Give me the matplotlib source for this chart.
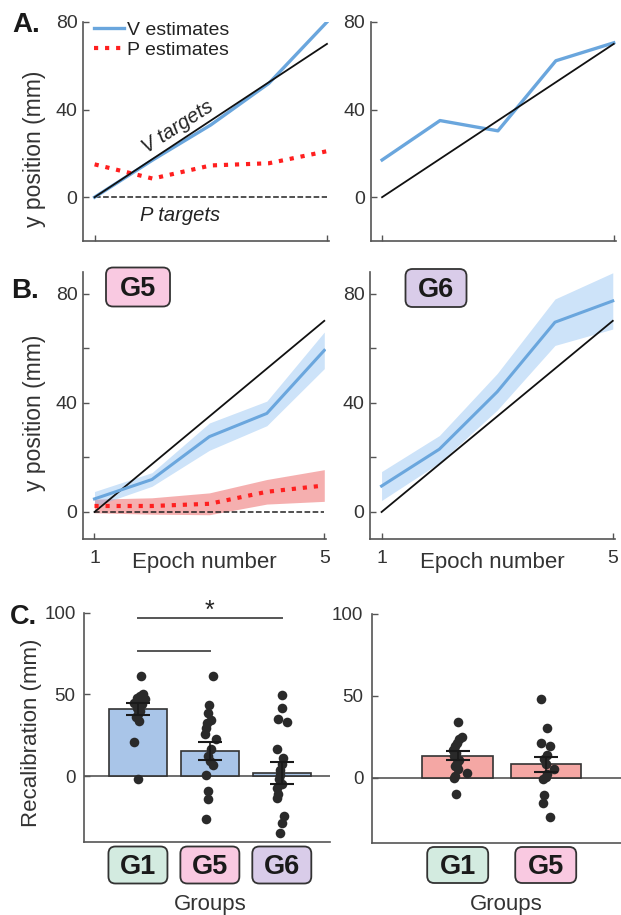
import matplotlib
matplotlib.use("Agg")
import matplotlib.pyplot as plt
from matplotlib.patches import FancyBboxPatch
import numpy as np

plt.rcParams["font.family"] = ["Liberation Sans", "DejaVu Sans"]

W, H = 621, 915

# ---- data ----
epochs = [1, 2, 3, 4, 5]
v_targets = [0, 17.5, 35, 52.5, 70]
p_targets = [0, 0, 0, 0, 0]

# panel A: single example participants
a_left_v = [0, 17, 33, 52, 80]
a_left_p = [15, 8.5, 14.5, 15.5, 21]
a_right_v = [17, 35, 30.3, 62.3, 70.5]

# panel B: group means and sem bands
g5_v_mean = [4.8, 11.9, 27.6, 36.1, 59.2]
g5_v_sem = [2.7, 2.5, 5.0, 4.5, 6.7]
g5_p_mean = [2.2, 2.2, 3.0, 7.4, 9.7]
g5_p_sem = [2.5, 3.0, 4.0, 4.5, 5.8]
g6_v_mean = [9.5, 23, 44, 69.5, 77.3]
g6_v_sem = [5.3, 5.0, 6.7, 8.5, 10.3]

# panel C left: visual recalibration
vis_groups = ["G1", "G5", "G6"]
vis_means = [41.1, 15.7, 2.1]
vis_sems = [3.5, 5.5, 6.6]
vis_dots = [
    [61.6, 50, 49, 48, 47, 46, 45, 44, 42, 40, 38, 36, 34, 21, -1.5],
    [61, 43.7, 38.6, 34.6, 32.5, 29.5, 26, 23, 16.7, 12.2, 9.1, 7.1, 1, -9, -14, -26.4],
    [49.8, 42, 35, 33, 16.7, 11.2, 7.7, 4, 1, -1.6, -4.5, -7, -11, -13, -24.4, -28.5, -34.6],
]
vis_jitter = [
    [0.04, 0.07, 0.03, -0.02, 0.1, 0, -0.06, 0.05, -0.02, 0.03, 0, -0.03, 0.02, -0.06, 0],
    [0.05, -0.01, -0.02, 0.01, -0.04, -0.06, -0.07, 0.09, 0.02, -0.02, 0, 0.04, -0.05, -0.02, -0.03, -0.05],
    [0, 0, -0.05, 0.07, -0.06, 0.02, 0, -0.03, -0.02, -0.04, 0, -0.07, -0.05, -0.06, 0.03, 0, -0.02],
]

# panel C right: proprioceptive recalibration
prop_groups = ["G1", "G5"]
prop_means = [13.4, 8.2]
prop_sems = [2.6, 4.6]
prop_dots = [
    [34, 25, 23.5, 21, 19, 17, 15, 13, 11, 9, 7, 5, 3, 1, 0, -10],
    [47.8, 30.6, 21, 19.4, 13.8, 11.3, 8.3, 5.3, 2.2, 0.2, -0.8, -10.5, -15.4, -24],
]
prop_jitter = [
    [0, 0.05, 0.02, -0.01, -0.03, -0.05, -0.02, -0.04, 0.01, -0.01, -0.03, 0, 0.1, -0.03, -0.04, -0.02],
    [-0.05, 0.01, -0.05, 0.05, 0.01, -0.02, 0, 0.09, 0.01, 0, -0.03, -0.02, -0.03, 0.05],
]

GROUP_COLORS = {"G1": "#d3ebe0", "G5": "#f9c9e1", "G6": "#d9cce9"}
V_COLOR = "#6aa6dd"
V_BAND = "#82b9f0"
P_COLOR = "#ff1f1f"
P_BAND = "#ec6060"
AX_COLOR = "#555555"
TXT = "#333333"


def px_axes(fig, l, t, r, b):
    return fig.add_axes([l / W, 1 - b / H, (r - l) / W, (b - t) / H])


def style_axes(ax, size):
    for s in ["top", "right"]:
        ax.spines[s].set_visible(False)
    for s in ["left", "bottom"]:
        ax.spines[s].set_color(AX_COLOR)
        ax.spines[s].set_linewidth(1.2)
    ax.tick_params(direction="in", length=4, width=1, color=AX_COLOR,
                   labelcolor=TXT, labelsize=size, pad=4)


def label_box(fig, cx, cy, text, color, w=60, h=37, fs=19.5):
    dpi = fig.dpi
    patch = FancyBboxPatch(((cx - w / 2) / dpi, (H - cy - h / 2) / dpi), w / dpi, h / dpi,
                           boxstyle=f"round,pad=0,rounding_size={7 / dpi}",
                           transform=fig.dpi_scale_trans, fc=color, ec="#333333", lw=1.3)
    fig.add_artist(patch)
    fig.text(cx / W, 1 - (cy + 2) / H, text, ha="center", va="center",
             fontweight="bold", fontsize=fs, color="#1a1a1a")


fig = plt.figure(figsize=(W / 100, H / 100), dpi=100)

# ---------------- A ----------------
ax = px_axes(fig, 83, 22, 328.7, 241)
style_axes(ax, 14)
ax.plot(epochs, p_targets, "--", color="#222222", lw=1.1)
ax.plot(epochs, a_left_v, color=V_COLOR, lw=2.4, label="V estimates")
ax.plot(epochs, a_left_p, ":", color=P_COLOR, lw=3, label="P estimates")
ax.plot(epochs, v_targets, color="#111111", lw=1.3)
ax.set_xlim(0.8, 5.03)
ax.set_ylim(-20, 80)
ax.set_xticks([1, 5])
ax.set_xticklabels([])
ax.set_yticks([0, 40, 80])
ax.set_ylabel("y position (mm)", fontsize=16.5, color=TXT)
ax.yaxis.set_label_coords(-0.152, 0.42)
ax.text(2.43, 32, "V targets", rotation=33, rotation_mode="anchor", ha="center",
        va="center", fontsize=14.5, style="italic", color="#222222")
ax.text(2.47, -8.5, "P targets", ha="center", va="center", fontsize=14.5,
        style="italic", color="#222222")
leg = ax.legend(loc="upper left", bbox_to_anchor=(0.045, 1.005), frameon=False,
                fontsize=14, handlelength=1.55, handletextpad=0.15, labelspacing=0.15,
                borderpad=0, borderaxespad=0)
for t in leg.get_texts():
    t.set_color("#222222")

ax = px_axes(fig, 370.5, 22, 615.5, 241)
style_axes(ax, 14)
ax.plot(epochs, a_right_v, color=V_COLOR, lw=2.4)
ax.plot(epochs, v_targets, color="#111111", lw=1.3)
ax.set_xlim(0.8, 5.03)
ax.set_ylim(-20, 80)
ax.set_xticks([1, 5])
ax.set_xticklabels([])
ax.set_yticks([0, 40, 80])

# ---------------- B ----------------
def plot_band(ax, mean, sem, band, alpha):
    m = np.array(mean)
    s = np.array(sem)
    ax.fill_between(epochs, m - s, m + s, color=band, alpha=alpha, lw=0)


ax = px_axes(fig, 83, 271.7, 326, 539.3)
style_axes(ax, 14)
plot_band(ax, g5_p_mean, g5_p_sem, P_BAND, 0.5)
plot_band(ax, g5_v_mean, g5_v_sem, V_BAND, 0.4)
ax.plot(epochs, p_targets, "--", color="#222222", lw=1.1)
ax.plot(epochs, v_targets, color="#111111", lw=1.3)
ax.plot(epochs, g5_v_mean, color=V_COLOR, lw=2.2)
ax.plot(epochs, g5_p_mean, ":", color=P_COLOR, lw=3)
ax.set_xlim(0.8, 5.03)
ax.set_ylim(-10, 88)
ax.set_xticks([1, 5])
ax.set_xticklabels(["1", "5"])
ax.set_yticks([0, 20, 40, 60, 80])
ax.set_yticklabels(["0", "", "40", "", "80"])
ax.tick_params(axis="x", pad=8)
ax.set_ylabel("y position (mm)", fontsize=16.5, color=TXT)
ax.yaxis.set_label_coords(-0.152, 0.474)
ax.text(0.5, -0.088, "Epoch number", transform=ax.transAxes, ha="center", va="center",
        fontsize=16, color=TXT)

ax = px_axes(fig, 370, 271.7, 614.5, 539.3)
style_axes(ax, 14)
plot_band(ax, g6_v_mean, g6_v_sem, V_BAND, 0.4)
ax.plot(epochs, v_targets, color="#111111", lw=1.3)
ax.plot(epochs, g6_v_mean, color=V_COLOR, lw=2.2)
ax.set_xlim(0.8, 5.03)
ax.set_ylim(-10, 88)
ax.set_xticks([1, 5])
ax.set_xticklabels(["1", "5"])
ax.set_yticks([0, 20, 40, 60, 80])
ax.set_yticklabels(["0", "", "40", "", "80"])
ax.tick_params(axis="x", pad=8)
ax.text(0.5, -0.088, "Epoch number", transform=ax.transAxes, ha="center", va="center",
        fontsize=16, color=TXT)

label_box(fig, 138, 287, "G5", GROUP_COLORS["G5"], w=64, h=39)
label_box(fig, 436, 288, "G6", GROUP_COLORS["G6"], w=61, h=38)


# ---------------- C ----------------
def bar_panel(ax, groups, means, sems, dots, jitter, color, xlim):
    x = np.arange(1, len(groups) + 1)
    style_axes(ax, 13.5)
    ax.axhline(0, color=AX_COLOR, lw=1.2, zorder=1)
    ax.bar(x, means, width=0.8, color=color, edgecolor="#333333", lw=1.2, zorder=2)
    for xi, d, j in zip(x, dots, jitter):
        ax.scatter(xi + np.array(j), d, s=48, color="#2a2a2a", lw=0, zorder=3)
    ax.errorbar(x, means, yerr=sems, fmt="none", ecolor="#1a1a1a", elinewidth=1.2,
                capsize=8.3, capthick=1.5, zorder=4)
    ax.set_xlim(*xlim)
    ax.set_ylim(-40, 100)
    ax.set_xticks([])
    ax.set_yticks([0, 50, 100])
    ax.tick_params(axis="y", pad=6)
    return x


ax = px_axes(fig, 84, 612.7, 330, 841.7)
xs = bar_panel(ax, vis_groups, vis_means, vis_sems, vis_dots, vis_jitter, "#a9c5e8", (0.25, 3.67))
ax.set_ylabel("Recalibration (mm)", fontsize=16, color=TXT)
ax.yaxis.set_label_coords(-0.17, 0.475)
ax.plot([1, 3], [96.5, 96.5], color=AX_COLOR, lw=1.4, clip_on=False)
ax.plot([1, 2], [76.6, 76.6], color=AX_COLOR, lw=1.4, clip_on=False)
ax.text(2, 94, "*", ha="center", va="bottom", fontsize=18, color="#222222")
fig.canvas.draw()
for xi, g in zip(xs, vis_groups):
    cx = ax.transData.transform((xi, 0))[0]
    label_box(fig, cx, 865, g, GROUP_COLORS[g], w=59, h=37)
cx = ax.transData.transform((2, 0))[0]
fig.text(cx / W, 1 - 910 / H, "Groups", ha="center", va="baseline", fontsize=16, color=TXT)

ax = px_axes(fig, 371.7, 614, 621, 843)
xs = bar_panel(ax, prop_groups, prop_means, prop_sems, prop_dots, prop_jitter, "#f4a7a4", (0.023, 2.855))
for xi, g in zip(xs, prop_groups):
    cx = ax.transData.transform((xi, 0))[0]
    label_box(fig, cx, 865, g, GROUP_COLORS[g], w=61, h=36)
cx = ax.transData.transform((1.55, 0))[0]
fig.text(cx / W, 1 - 910 / H, "Groups", ha="center", va="baseline", fontsize=16, color=TXT)

# panel letters
fig.text(12 / W, 1 - 32 / H, "A.", fontsize=20, fontweight="bold", va="baseline", color="#1a1a1a")
fig.text(11 / W, 1 - 298 / H, "B.", fontsize=20, fontweight="bold", va="baseline", color="#1a1a1a")
fig.text(10 / W, 1 - 624 / H, "C.", fontsize=19.5, fontweight="bold", va="baseline", color="#1a1a1a")

fig.savefig("out.png", dpi=100)
